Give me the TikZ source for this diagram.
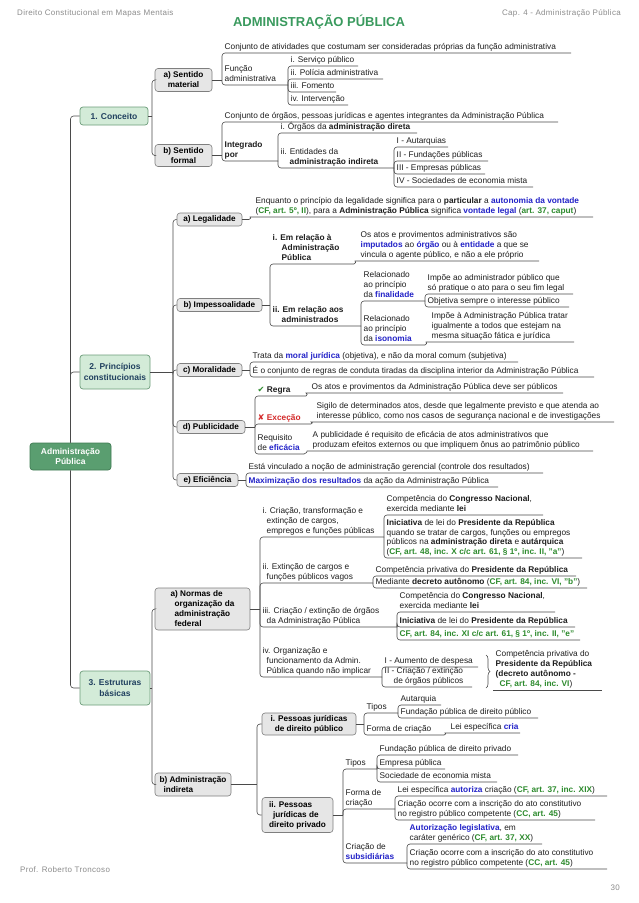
\documentclass[tikz,border=0pt]{standalone}
\usepackage{fontspec}
\setmainfont{Liberation Sans}
\newfontfamily\symf{DejaVu Sans}
\newfontfamily\hdrfont[LetterSpace=4]{Liberation Sans}
\usetikzlibrary{decorations.pathreplacing}
\definecolor{lineC}{HTML}{4A4A4A}
\definecolor{txt}{HTML}{1E1E1E}
\definecolor{blueT}{HTML}{2323C8}
\definecolor{greenT}{HTML}{2E8B2E}
\definecolor{redT}{HTML}{D42A2A}
\definecolor{rootF}{HTML}{5A9E70}
\definecolor{rootD}{HTML}{3E7A52}
\definecolor{l1F}{HTML}{D3EBD8}
\definecolor{l1D}{HTML}{6C9C7A}
\definecolor{l1T}{HTML}{20405F}
\definecolor{boxF}{HTML}{E6E6E6}
\definecolor{boxD}{HTML}{7F7F7F}
\definecolor{titleC}{HTML}{3A9A5E}
\definecolor{hdrC}{HTML}{8C8C8C}
\newcommand\azul[1]{\textcolor{blueT}{\textbf{#1}}}
\newcommand\verde[1]{\textcolor{greenT}{\textbf{#1}}}
\newcommand\indA{\hspace*{4pt}}
\newcommand\indC{\hspace*{9pt}}
\newcommand\leafnode[6]{%
  \node[leaf] (#1) at (#3,#4) {#6};
  \coordinate (#1e) at (#5,#4);
  \draw[conn] (#2) |- (#1e);}
\newcommand\leafcurve[6]{%
  \node[leaf] (#1) at (#3,#4) {#6};
  \coordinate (#1s) at (#3,#4);
  \coordinate (#1e) at (#5,#4);
  \draw[conn] (#2) to[out=0,in=180] (#1s) -- (#1e);}
\begin{document}
\begin{tikzpicture}[x=1pt,y=-1pt,
  conn/.style={draw=lineC, line width=0.6pt, rounded corners=3pt},
  leaf/.style={anchor=south west, inner xsep=2.5pt, inner ysep=1pt, text depth=2.2pt, align=left, font=\fontsize{8.3}{10}\selectfont, text=txt},
  gbox/.style={draw=boxD, fill=boxF, rounded corners=3pt, line width=0.6pt, inner sep=1pt, font=\fontsize{8.2}{10}\selectfont\bfseries, align=center, text=black},
  l1box/.style={draw=l1D, fill=l1F, rounded corners=3pt, line width=0.7pt, inner sep=1pt, font=\fontsize{8.5}{10.5}\selectfont\bfseries, align=center, text=l1T},
  rootbox/.style={draw=rootD, fill=rootF, rounded corners=3pt, line width=0.7pt, inner sep=1pt, font=\fontsize{8.5}{10.5}\selectfont\bfseries, align=center, text=white, minimum width=81pt, minimum height=27pt},
  hdr/.style={font=\hdrfont\fontsize{8}{9}\selectfont, text=hdrC, inner sep=0pt},
  ttl/.style={font=\fontsize{13}{15}\selectfont\bfseries, text=titleC, inner sep=0pt}]
\fill[white] (0,0) rectangle (638,903);
\useasboundingbox (0,0) rectangle (638,903);

% header / footer
\node[hdr, anchor=west] (h1) at (17,13) {Direito Constitucional em Mapas Mentais};
\node[hdr, anchor=east] (h2) at (621,13) {Cap. 4 - Administração Pública};
\node[ttl] (title) at (319,22) {ADMINISTRAÇÃO PÚBLICA};
\node[hdr, anchor=west] (f1) at (20,870) {Prof. Roberto Troncoso};
\node[hdr, anchor=east] (f2) at (620,888) {30};

% root and level 1
\node[rootbox] (root) at (70.5,456.5) {Administração\\Pública};
\node[l1box, minimum width=68pt, minimum height=18pt] (c1) at (114,116) {1. Conceito};
\node[l1box, minimum width=70pt, minimum height=34pt] (c2) at (115,372) {2. Princípios\\constitucionais};
\node[l1box, minimum width=70pt, minimum height=34pt] (c3) at (115,688) {3. Estruturas\\básicas};
\draw[conn] (root.north) |- (c1.west);
\draw[conn] (root.north) |- (c2.west);
\draw[conn] (root.south) |- (c3.west);

% ---------- 1. Conceito
\coordinate (c1j) at (152,116);
\draw[conn] (c1.east) -- (c1j);
\node[gbox, minimum width=57pt, minimum height=23pt] (a1) at (183.5,80) {a) Sentido\\material};
\node[gbox, minimum width=57pt, minimum height=22pt] (a2) at (183.5,155.5) {b) Sentido\\formal};
\draw[conn] (c1j) |- (a1.west);
\draw[conn] (c1j) |- (a2.west);

\coordinate (a1j) at (222,80);
\draw[conn] (a1.east) -- (a1j);
\leafnode{n11}{a1j}{222}{53}{571}{Conjunto de atividades que costumam ser consideradas próprias da função administrativa}
\leafnode{n12}{a1j}{222}{85}{288}{Função\\administrativa}
\leafnode{n121}{n12e}{288}{66}{358}{i. Serviço público}
\leafnode{n122}{n12e}{288}{79}{383}{ii. Polícia administrativa}
\leafnode{n123}{n12e}{288}{92}{336}{iii. Fomento}
\leafnode{n124}{n12e}{288}{105}{348}{iv. Intervenção}

\coordinate (a2j) at (222,155.5);
\draw[conn] (a2.east) -- (a2j);
\leafnode{n21}{a2j}{222}{122}{558}{Conjunto de órgãos, pessoas jurídicas e agentes integrantes da Administração Pública}
\leafnode{n22}{a2j}{222}{161}{278}{\textbf{Integrado}\\\textbf{por}}
\leafnode{n221}{n22e}{278}{133}{417}{i. Órgãos da \textbf{administração direta}}
\leafnode{n222}{n22e}{278}{168}{394}{ii. Entidades da\\\indC\textbf{administração indireta}}
\leafnode{n2221}{n222e}{394}{147}{448}{I - Autarquias}
\leafnode{n2222}{n222e}{394}{161}{488}{II - Fundações públicas}
\leafnode{n2223}{n222e}{394}{174}{485}{III - Empresas públicas}
\leafnode{n2224}{n222e}{394}{187}{533}{IV - Sociedades de economia mista}

% ---------- 2. Principios
\coordinate (c2j) at (173,372);
\draw[conn] (c2.east) -- (c2j);
\node[gbox, minimum width=65pt, minimum height=13pt] (p1) at (209.5,219.5) {a) Legalidade};
\node[gbox, minimum width=85pt, minimum height=13pt] (p2) at (219.5,305) {b) Impessoalidade};
\node[gbox, minimum width=65pt, minimum height=13pt] (p3) at (209.5,370) {c) Moralidade};
\node[gbox, minimum width=68pt, minimum height=13pt] (p4) at (211,427) {d) Publicidade};
\node[gbox, minimum width=61pt, minimum height=13pt] (p5) at (207.5,480) {e) Eficiência};
\foreach \p in {p1,p2,p3,p4,p5} {\draw[conn] (c2j) |- (\p.west);}

\coordinate (p1j) at (249,219.5);
\draw[conn] (p1.east) -- (p1j);
\leafcurve{l1}{p1j}{253}{217}{593}{Enquanto o princípio da legalidade significa para o \textbf{particular} a \azul{autonomia da vontade}\\(\verde{CF, art. 5º, II}), para a \textbf{Administração Pública} significa \azul{vontade legal} (\verde{art. 37, caput})}

\coordinate (p2j) at (270,305);
\draw[conn] (p2.east) -- (p2j);
\leafnode{q1}{p2j}{270}{264}{354}{\textbf{i. Em relação à}\\\indC\textbf{Administração}\\\indC\textbf{Pública}}
\leafcurve{q11}{q1e}{358}{261}{539}{Os atos e provimentos administrativos são\\\azul{imputados} ao \azul{órgão} ou à \azul{entidade} a que se\\vincula o agente público, e não a ele próprio}
\leafnode{q2}{p2j}{270}{326}{361}{\textbf{ii. Em relação aos}\\\indC\textbf{administrados}}
\leafnode{q21}{q2e}{361}{301}{425}{Relacionado\\ao princípio\\da \azul{finalidade}}
\leafnode{q211}{q21e}{425}{294}{573}{Impõe ao administrador público que\\só pratique o ato para o seu fim legal}
\leafnode{q212}{q21e}{425}{307}{569}{Objetiva sempre o interesse público}
\leafnode{q22}{q2e}{361}{345}{425}{Relacionado\\ao princípio\\da \azul{isonomia}}
\leafcurve{q221}{q22e}{429}{342}{574}{Impõe à Administração Pública tratar\\igualmente a todos que estejam na\\mesma situação fática e jurídica}

\coordinate (p3j) at (250,370);
\draw[conn] (p3.east) -- (p3j);
\leafnode{m1}{p3j}{250}{362}{518}{Trata da \azul{moral jurídica} (objetiva), e não da moral comum (subjetiva)}
\leafnode{m2}{p3j}{250}{377}{594}{É o conjunto de regras de conduta tiradas da disciplina interior da Administração Pública}

\coordinate (p4j) at (255,427);
\draw[conn] (p4.east) -- (p4j);
\leafnode{r1}{p4j}{255}{396}{306}{{\symf\color{greenT}✔} \textbf{Regra}}
\leafcurve{r11}{r1e}{309}{393}{563}{Os atos e provimentos da Administração Pública deve ser públicos}
\leafnode{r2}{p4j}{255}{424}{311}{\textcolor{redT}{{\symf ✘} \textbf{Exceção}}}
\leafcurve{r21}{r2e}{314}{422}{614}{Sigilo de determinados atos, desde que legalmente previsto e que atenda ao\\interesse público, como nos casos de segurança nacional e de investigações}
\leafnode{r3}{p4j}{255}{454}{304}{Requisito\\de \azul{eficácia}}
\leafcurve{r31}{r3e}{310}{451}{593}{A publicidade é requisito de eficácia de atos administrativos que\\produzam efeitos externos ou que impliquem ônus ao patrimônio público}

\coordinate (p5j) at (246,480);
\draw[conn] (p5.east) -- (p5j);
\leafnode{e1}{p5j}{246}{473}{543}{Está vinculado a noção de administração gerencial (controle dos resultados)}
\leafnode{e2}{p5j}{246}{487}{498}{\azul{Maximização dos resultados} da ação da Administração Pública}

% ---------- 3. Estruturas
\coordinate (c3j) at (152,688);
\draw[conn] (c3.east) -- (c3j);
\node[gbox, align=left, minimum width=95pt, minimum height=42pt] (s1) at (202.5,609) {a) Normas de\\\indA organização da\\\indA administração\\\indA federal};
\node[gbox, align=left, minimum width=76pt, minimum height=23pt] (s2) at (193,784.5) {b) Administração\\\indA indireta};
\draw[conn] (c3j) |- (s1.west);
\draw[conn] (c3j) |- (s2.west);

\coordinate (s1j) at (260,609);
\draw[conn] (s1.east) -- (s1j);
\leafnode{u1}{s1j}{260}{537}{384}{i. Criação, transformação e\\\indA extinção de cargos,\\\indA empregos e funções públicas}
\leafnode{u11}{u1e}{384}{515}{543}{Competência do \textbf{Congresso Nacional},\\exercida mediante \textbf{lei}}
\node[leaf, font=\fontsize{8.3}{9.7}\selectfont] (u12) at (384,558) {\textbf{Iniciativa} de lei do \textbf{Presidente da República}\\quando se tratar de cargos, funções ou empregos\\públicos na \textbf{administração direta} e \textbf{autárquica}\\(\verde{CF, art. 48, inc. X c/c art. 61, § 1º, inc. II, "a"})};
\coordinate (u12e) at (582,558);
\draw[conn] (u1e) |- (u12e);
\leafnode{u2}{s1j}{260}{583}{373}{ii. Extinção de cargos e\\\indA funções públicos vagos}
\leafnode{u21}{u2e}{373}{576}{576}{Competência privativa do \textbf{Presidente da República}}
\leafnode{u22}{u2e}{373}{588}{587}{Mediante \textbf{decreto autônomo} (\verde{CF, art. 84, inc. VI, "b"})}
\leafnode{u3}{s1j}{260}{627}{397}{iii. Criação / extinção de órgãos\\\indA da Administração Pública}
\leafnode{u31}{u3e}{397}{612}{555}{Competência do \textbf{Congresso Nacional},\\exercida mediante \textbf{lei}}
\leafnode{u32}{u3e}{397}{627}{575}{\textbf{Iniciativa} de lei do \textbf{Presidente da República}}
\leafnode{u33}{u3e}{397}{640}{580}{\verde{CF, art. 84, inc. XI c/c art. 61, § 1º, inc. II, "e"}}
\leafnode{u4}{s1j}{260}{677}{382}{iv. Organização e\\\indA funcionamento da Admin.\\\indA Pública quando não implicar}
\leafnode{u41}{u4e}{382}{667}{478}{I - Aumento de despesa}
\leafnode{u42}{u4e}{382}{687}{472}{II - Criação / extinção\\\indC de órgãos públicos}
\coordinate (bt) at (486,655);
\coordinate (bb) at (486,688);
\draw[draw=lineC, line width=0.6pt, decorate, decoration={brace, amplitude=4pt}] (bt) -- (bb);
\node[leaf] (v1) at (493,690) {Competência privativa do\\\textbf{Presidente da República}\\\textbf{(decreto autônomo -}\\\indA\verde{CF, art. 84, inc. VI})};
\coordinate (v1e) at (602,690);
\draw[conn] (v1.south west) -- (v1e);

\coordinate (s2j) at (257,784.5);
\draw[conn] (s2.east) -- (s2j);
\node[gbox, minimum width=94pt, minimum height=22pt] (w1) at (309,724) {i. Pessoas jurídicas\\de direito público};
\node[gbox, align=left, minimum width=71pt, minimum height=35pt] (w2) at (297.5,815) {ii. Pessoas\\\indA jurídicas de\\direito privado};
\draw[conn] (s2j) |- (w1.west);
\draw[conn] (s2j) |- (w2.west);

\coordinate (w1j) at (364,724);
\draw[conn] (w1.east) -- (w1j);
\leafnode{x1}{w1j}{364}{713}{398}{Tipos}
\leafnode{x11}{x1e}{398}{705}{441}{Autarquia}
\leafnode{x12}{x1e}{398}{718}{538}{Fundação pública de direito público}
\leafnode{x2}{w1j}{364}{735}{444}{Forma de criação}
\leafcurve{x21}{x2e}{448}{733}{520}{Lei específica \azul{cria}}

\coordinate (w2j) at (343,815);
\draw[conn] (w2.east) -- (w2j);
\leafnode{y1}{w2j}{343}{769}{377}{Tipos}
\leafnode{y11}{y1e}{377}{755}{518}{Fundação pública de direito privado}
\leafnode{y12}{y1e}{377}{769}{445}{Empresa pública}
\leafnode{y13}{y1e}{377}{782}{497}{Sociedade de economia mista}
\leafnode{y2}{w2j}{343}{809}{395}{Forma de\\criação}
\leafnode{y21}{y2e}{395}{796}{607}{Lei específica \azul{autoriza} criação (\verde{CF, art. 37, inc. XIX})}
\leafnode{y22}{y2e}{395}{820}{595}{Criação ocorre com a inscrição do ato constitutivo\\no registro público competente (\verde{CC, art. 45})}
\leafnode{y3}{w2j}{343}{863}{407}{Criação de\\\azul{subsidiárias}}
\leafnode{y31}{y3e}{407}{844}{542}{\azul{Autorização legislativa}, em\\caráter genérico (\verde{CF, art. 37, XX})}
\leafnode{y32}{y3e}{407}{869}{607}{Criação ocorre com a inscrição do ato constitutivo\\no registro público competente (\verde{CC, art. 45})}
\end{tikzpicture}
\end{document}
